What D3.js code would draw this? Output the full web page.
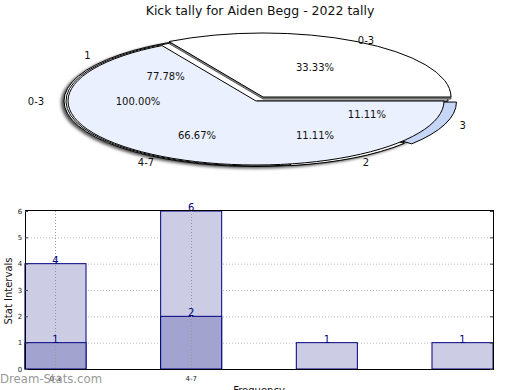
<!DOCTYPE html>
<html><head><meta charset="utf-8">
<script src="https://cdn.jsdelivr.net/npm/d3@7"></script>
<style>
html,body{margin:0;padding:0;background:#fff;}
svg{display:block;font-family:"DejaVu Sans",sans-serif;}
</style></head>
<body>
<script>
// ---------- data ----------
const title = "Kick tally for Aiden Begg - 2022 tally";
// Pie rings
const pieOuterCats = ["0-3"];            // 100%
const pieOuterVals = [9];
const pieMidCats = ["0-3", "4-7"];       // 33.33%, 66.67%
const pieMidVals = [3, 6];
const pieInnerCats = ["1", "2", "3"];    // 77.78%, 11.11%, 11.11%
const pieInnerVals = [7, 1, 1];
// Bars
const barCats = ["0-3", "4-7", "", ""];
const barLight = [4, 6, 1, 1];
const barDark = [1, 2, 0, 0];
const yTicks = [0, 1, 2, 3, 4, 5, 6];

const W = 520, H = 390;
const svg = d3.select("body").append("svg").attr("width", W).attr("height", H);

svg.append("text").attr("x", 260).attr("y", 15).attr("text-anchor", "middle")
  .attr("font-size", 12.5).attr("fill", "#111").text(title);

// ---------- pie ----------
const defs = svg.append("defs");
defs.append("filter").attr("id", "blur").append("feGaussianBlur").attr("stdDeviation", 1.4);

const cx = 256, cy = 101, RX = 188, RY = 64;
const pieGen = d3.pie().sort(null).startAngle(Math.PI / 2).endAngle(Math.PI / 2 - 2 * Math.PI);

function drawPie(vals, ox, oy, rx, ry, fills, explode) {
  const arcs = pieGen(vals);
  const arc = d3.arc().innerRadius(0).outerRadius(rx);
  arcs.forEach((a, i) => {
    const mid = Math.PI / 2 - (a.startAngle + a.endAngle) / 2; // math angle
    const e = (explode && explode[i]) || 0;
    const dx = e * Math.cos(mid), dy = -e * Math.sin(mid) * ry / rx;
    svg.append("path")
      .attr("d", arc(a))
      .attr("transform", `translate(${ox + dx},${oy + dy}) scale(1,${ry / rx})`)
      .attr("fill", fills[i]).attr("stroke", "#000").attr("stroke-width", 1)
      .attr("vector-effect", "non-scaling-stroke");
  });
  return arcs;
}

// shadow
svg.append("ellipse").attr("cx", cx - 2).attr("cy", cy + 1.5).attr("rx", RX + 5).attr("ry", RY + 2)
  .attr("fill", "#555").attr("filter", "url(#blur)");

const arcsA = drawPie(pieOuterVals, cx - 1, cy, RX + 3, RY + 1.5, ["#ffffff"], null);
const arcsC = drawPie(pieInnerVals, cx + 1, cy, RX + 3, RY + 1, ["#ffffff", "#ffffff", "#c6d6f6"], [0, 2, 9]);
const arcsB = pieGen(pieMidVals);
{
  const arc = d3.arc().innerRadius(0).outerRadius(RX);
  svg.append("path").attr("d", arc(arcsB[1]))
    .attr("transform", `translate(${cx},${cy}) scale(1,${RY / RX})`)
    .attr("fill", "#eaf0fd").attr("stroke", "#000").attr("stroke-width", 1)
    .attr("vector-effect", "non-scaling-stroke");
  const ex = 7, ey = -4;
  svg.append("path").attr("d", arc(arcsB[0]))
    .attr("transform", `translate(${cx + ex},${cy + ey + 2}) scale(1,${RY / RX})`)
    .attr("fill", "#888").attr("stroke", "#555").attr("stroke-width", 1)
    .attr("vector-effect", "non-scaling-stroke");
  svg.append("path").attr("d", arc(arcsB[0]))
    .attr("transform", `translate(${cx + ex},${cy + ey}) scale(1,${RY / RX})`)
    .attr("fill", "#ffffff").attr("stroke", "#000").attr("stroke-width", 1)
    .attr("vector-effect", "non-scaling-stroke");
}

// labels
function labelPie(arcs, cats, total) {
  arcs.forEach((a, i) => {
    const mid = Math.PI / 2 - (a.startAngle + a.endAngle) / 2;
    const lx = cx + 220 * Math.cos(mid), ly = cy - 71 * Math.sin(mid);
    svg.append("text").attr("x", lx).attr("y", ly + 4).attr("text-anchor", "middle")
      .attr("font-size", 10).attr("fill", "#111").text(cats[i]);
    const px = cx + 118 * Math.cos(mid), py = cy - 39 * Math.sin(mid);
    svg.append("text").attr("x", px).attr("y", py + 4).attr("text-anchor", "middle")
      .attr("font-size", 10).attr("fill", "#111")
      .text((a.value / total * 100).toFixed(2) + "%");
  });
}
labelPie(arcsA, pieOuterCats, d3.sum(pieOuterVals));
labelPie(arcsB, pieMidCats, d3.sum(pieMidVals));
labelPie(arcsC, pieInnerCats, d3.sum(pieInnerVals));

// ---------- bars ----------
const L = 25, R = 493, T = 211, B = 369;
const x = d3.scalePoint().domain(d3.range(barCats.length)).range([L, R]).padding(0.2247);
const bw = x.step() * 0.45;
const y = d3.scaleLinear().domain([0, 6]).range([B, T]);

const g = svg.append("g");
g.selectAll(".hg").data(yTicks.filter(t => t > 0 && t < 6)).enter().append("line")
  .attr("x1", L).attr("x2", R).attr("y1", d => y(d) + 0.5).attr("y2", d => y(d) + 0.5)
  .attr("stroke", "#bbb").attr("stroke-dasharray", "1,2");

g.selectAll(".bl").data(barLight).enter().append("rect")
  .attr("x", (d, i) => x(i) - bw / 2).attr("width", bw)
  .attr("y", d => y(d)).attr("height", d => B - y(d))
  .attr("fill", "#ccccE4").attr("stroke", "#000080");
g.selectAll(".bd").data(barDark).enter().filter(d => d > 0).append("rect")
  .attr("x", (d, i) => x(i) - bw / 2).attr("width", bw)
  .attr("y", d => y(d)).attr("height", d => B - y(d))
  .attr("fill", "#a3a3d0").attr("stroke", "#000080");

g.selectAll(".vg").data(barCats.map((c, i) => [c, i]).filter(d => d[0] !== "")).enter().append("line")
  .attr("x1", d => Math.round(x(d[1])) + 0.5).attr("x2", d => Math.round(x(d[1])) + 0.5)
  .attr("y1", T).attr("y2", B)
  .attr("stroke", "#999").attr("stroke-dasharray", "1,2");

barLight.forEach((v, i) => {
  g.append("text").attr("x", x(i)).attr("y", y(v)).attr("text-anchor", "middle")
    .attr("font-size", 10).attr("fill", "#000080").text(v);
});
barDark.forEach((v, i) => {
  if (v > 0) g.append("text").attr("x", x(i)).attr("y", y(v)).attr("text-anchor", "middle")
    .attr("font-size", 10).attr("fill", "#000080").text(v);
});

g.append("rect").attr("x", L + 0.5).attr("y", T - 0.5).attr("width", R - L).attr("height", B - T + 1)
  .attr("fill", "none").attr("stroke", "#000");

yTicks.forEach(t => {
  g.append("line").attr("x1", L).attr("x2", L + 3).attr("y1", y(t) + 0.5).attr("y2", y(t) + 0.5).attr("stroke", "#444");
  g.append("line").attr("x1", R - 3).attr("x2", R).attr("y1", y(t) + 0.5).attr("y2", y(t) + 0.5).attr("stroke", "#444");
  g.append("text").attr("x", 20).attr("y", y(t) + 2.5).attr("text-anchor", "middle")
    .attr("font-size", 7).attr("fill", "#222").text(t);
});
barCats.forEach((c, i) => {
  if (c) g.append("text").attr("x", x(i)).attr("y", 380.5).attr("text-anchor", "middle")
    .attr("font-size", 7).attr("fill", "#222").text(c);
});

svg.append("text").attr("transform", "translate(12,291) rotate(-90)").attr("text-anchor", "middle")
  .attr("font-size", 10).attr("fill", "#111").text("Stat Intervals");
svg.append("text").attr("x", 259).attr("y", 394).attr("text-anchor", "middle")
  .attr("font-size", 10).attr("fill", "#111").text("Frequency");

svg.append("text").attr("x", 0).attr("y", 383).attr("font-size", 11.7)
  .attr("fill", "#999").text("Dream-Stats.com");
</script>
</body></html>
